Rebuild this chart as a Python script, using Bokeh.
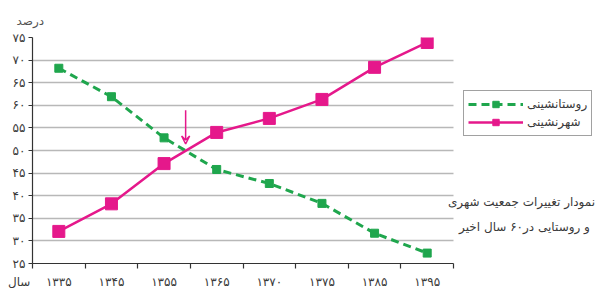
import numpy as np
from bokeh.plotting import figure
from bokeh.models import (FixedTicker, Legend, LegendItem, Label, Arrow, VeeHead,
                          Range1d, Grid)
from bokeh.embed import file_html
from bokeh.resources import INLINE

# ---- data ----
years = ["۱۳۳۵", "۱۳۴۵", "۱۳۵۵", "۱۳۶۵", "۱۳۷۰", "۱۳۷۵", "۱۳۸۵", "۱۳۹۵"]
rural = [68.2, 61.9, 52.8, 45.8, 42.7, 38.3, 31.7, 27.3]
urban = [32.1, 38.2, 47.1, 54.0, 57.1, 61.3, 68.4, 73.9]
y_ticks = [25, 30, 35, 40, 45, 50, 55, 60, 65, 70, 75]
y_tick_labels = ["۲۵", "۳۰", "۳۵", "۴۰", "۴۵", "۵۰", "۵۵", "۶۰", "۶۵", "۷۰", "۷۵"]
rural_label = "روستانشینی"
urban_label = "شهرنشینی"
y_title = "درصد"
x_title = "سال"
caption1 = "نمودار تغییرات جمعیت شهری"
caption2 = "و روستایی در۶۰ سال اخیر"

GREEN = "#1fa64d"
PINK = "#e5188b"
FONT = "DejaVu Sans"
TXT = "#3a3a3a"

# ---- layout (pixels) ----
W, H = 607, 291
LEFT, TOP, BOTTOM = 32, 37, 28
PLOT_W = 421                      # width of the chart area proper
FRAME_W = W - LEFT                # frame runs to the right edge (legend & caption live there)

n = len(years)
xpos = np.arange(n) + 0.5

p = figure(width=W, height=H,
           x_range=Range1d(0, n * FRAME_W / PLOT_W),
           y_range=Range1d(y_ticks[0], y_ticks[-1]),
           output_backend="svg", toolbar_location=None,
           min_border_left=LEFT, min_border_right=0,
           min_border_top=TOP, min_border_bottom=BOTTOM)
p.outline_line_color = None
p.background_fill_color = "white"
p.border_fill_color = "white"

# x axis: year labels at category centres, ticks at the boundaries,
# the axis caption "سال" sits at the origin, left of the first year
nbsp = "\u00a0"
p.xaxis.bounds = (0, n)
p.xaxis.ticker = FixedTicker(ticks=[0.0] + list(xpos),
                             minor_ticks=list(range(n + 1)))
overrides = {float(v): lbl for v, lbl in zip(xpos, years)}
overrides[0.0] = x_title + nbsp * 7
p.xaxis.major_label_overrides = overrides
p.xaxis.major_tick_out = 0
p.xaxis.major_tick_in = 0
p.xaxis.minor_tick_out = 5
p.xaxis.minor_tick_in = 0
p.xaxis.minor_tick_line_color = "#333333"
p.xaxis.minor_tick_line_width = 1.2
p.xaxis.axis_line_color = "#333333"
p.xaxis.axis_line_width = 1.2
p.xaxis.major_label_text_font = FONT
p.xaxis.major_label_text_font_size = "12px"
p.xaxis.major_label_text_color = TXT
p.xaxis.major_label_standoff = 6

p.yaxis.ticker = FixedTicker(ticks=y_ticks)
p.yaxis.major_label_overrides = {v: lbl for v, lbl in zip(y_ticks, y_tick_labels)}
p.yaxis.major_tick_out = 4
p.yaxis.major_tick_in = 0
p.yaxis.minor_tick_line_color = None
p.yaxis.major_tick_line_color = "#333333"
p.yaxis.axis_line_color = "#333333"
p.yaxis.axis_line_width = 1.2
p.yaxis.major_label_text_font = FONT
p.yaxis.major_label_text_font_size = "12px"
p.yaxis.major_label_text_color = TXT
p.yaxis.major_label_standoff = 3

p.xgrid.visible = False
if "cross_bounds" in Grid.properties():
    p.ygrid.cross_bounds = (0, n)
    p.ygrid.grid_line_color = "#b8b8b8"
    p.ygrid.grid_line_width = 1.3
else:
    p.ygrid.visible = False
    p.segment(x0=0, x1=n, y0=y_ticks, y1=y_ticks, line_color="#b8b8b8",
              line_width=1.3, level="underlay")

g_line = p.line(xpos, rural, line_color=GREEN, line_width=3, line_dash="8 5")
g_sq = p.scatter(xpos, rural, marker="square", size=8, color=GREEN)
u_line = p.line(xpos, urban, line_color=PINK, line_width=2.5)
u_sq = p.scatter(xpos, urban, marker="square", size=12, color=PINK)

# arrow pointing at the crossing of the two series
r = np.array(rural)
u = np.array(urban)
d = r - u
i = int(np.where(np.sign(d[:-1]) != np.sign(d[1:]))[0][0])
t = d[i] / (d[i] - d[i + 1])
xc = xpos[i] + t * (xpos[i + 1] - xpos[i])
yc = r[i] + t * (r[i + 1] - r[i])
p.add_layout(Arrow(x_start=xc, y_start=yc + 9, x_end=xc, y_end=yc + 1.5,
                   line_color=PINK, line_width=1.5,
                   end=VeeHead(size=8, line_color=PINK, line_width=1.5,
                               fill_color=None)))

legend = Legend(items=[LegendItem(label=rural_label, renderers=[g_line, g_sq]),
                       LegendItem(label=urban_label, renderers=[u_line, u_sq])],
                location=(431, 127), border_line_color="#444444",
                border_line_width=1.5, padding=4, spacing=0,
                glyph_width=55, glyph_height=16, label_height=18,
                label_text_font=FONT, label_text_font_size="12px",
                label_text_color=TXT, label_standoff=4, margin=0,
                background_fill_alpha=1)
p.add_layout(legend)

common = dict(x_units="screen", y_units="screen", text_font=FONT,
              text_baseline="middle", text_align="center", text_color=TXT)
p.add_layout(Label(x=489, y=62, text=caption1, text_font_size="12px", **common))
p.add_layout(Label(x=492, y=37, text=caption2, text_font_size="12px", **common))

# value caption above the y axis
p.title.text = y_title
p.title.align = "left"
p.title.offset = -16
p.title.standoff = 20
p.title.text_font = FONT
p.title.text_font_size = "12px"
p.title.text_font_style = "normal"
p.title.text_color = "#555555"

open("out.html", "w").write(file_html(p, INLINE))
